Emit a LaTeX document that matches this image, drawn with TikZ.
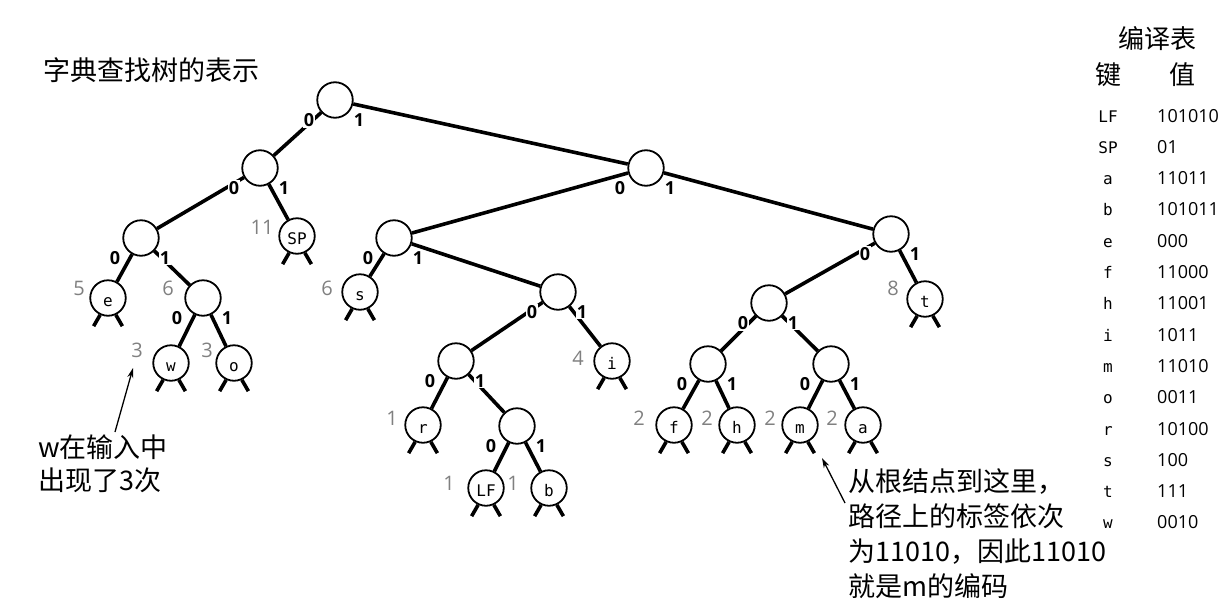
\documentclass[tikz,border=0pt]{standalone}
\usepackage{fontspec}
\setmainfont{Open Sans}
\setmonofont{DejaVu Sans Mono}
\newfontfamily\cjk{Noto Sans CJK SC}
\usetikzlibrary{arrows.meta}

\tikzset{
  knot/.style={circle,draw,line width=1.8pt,minimum size=35.5pt,inner sep=0pt,
    text height=16pt,text depth=0pt,font=\ttfamily\fontsize{16}{16}\selectfont},
  edge/.style={line width=3.6pt},
  bit/.style={fill=white,inner sep=1pt,font=\bfseries\fontsize{18}{18}\selectfont},
  cnt/.style={text=black!50,inner sep=0pt,font=\fontsize{20}{20}\selectfont},
  note/.style={align=left,inner sep=0pt,anchor=north west},
  pointer/.style={line width=1.3pt,-{Stealth[length=10pt,width=6pt]}},
  keycell/.style={anchor=base,inner sep=0pt,font=\ttfamily\fontsize{16}{16}\selectfont},
  valcell/.style={anchor=base west,inner sep=0pt,font=\fontsize{18}{18}\selectfont},
}

\begin{document}
\begin{tikzpicture}[x=1pt,y=-1pt]
  \useasboundingbox (0,0) rectangle (1228,605);

  \node[font=\cjk\fontsize{27}{27}\selectfont] (title) at (151,70) {字典查找树的表示};

  % trie nodes, named by their code
  \node[knot] (c) at (335,100) {};
  \node[knot] (c0) at (260,168) {};
  \node[knot] (c1) at (646,168) {};
  \node[knot] (c00) at (141,238) {};
  \node[knot] (c01) at (297,236) {SP};
  \node[knot] (c000) at (108,298) {e};
  \node[knot] (c001) at (203,298) {};
  \node[knot] (c0010) at (171,363) {w};
  \node[knot] (c0011) at (234,363) {o};
  \node[knot] (c10) at (394,238) {};
  \node[knot] (c11) at (891,234) {};
  \node[knot] (c100) at (360,292) {s};
  \node[knot] (c101) at (558,292) {};
  \node[knot] (c1010) at (456,361) {};
  \node[knot] (c1011) at (612,361) {i};
  \node[knot] (c10100) at (423,425) {r};
  \node[knot] (c10101) at (517,426) {};
  \node[knot] (c101010) at (486,488) {LF};
  \node[knot] (c101011) at (549,488) {b};
  \node[knot] (c110) at (769,303) {};
  \node[knot] (c111) at (925,299) {t};
  \node[knot] (c1100) at (708,364) {};
  \node[knot] (c1101) at (831,364) {};
  \node[knot] (c11000) at (674,425) {f};
  \node[knot] (c11001) at (737,425) {h};
  \node[knot] (c11010) at (800,425) {m};
  \node[knot] (c11011) at (863,425) {a};

  % links and their bits
  \foreach \p in {c,c0,c00,c001,c1,c10,c101,c1010,c10101,c11,c110,c1100,c1101} {
    \draw[edge] (\p) -- (\p0);
    \draw[edge] (\p) -- (\p1);
    \node[bit] (\p-0) at ([shift={(-26,20)}]\p) {0};
    \node[bit] (\p-1) at ([shift={(24,20)}]\p) {1};
  }

  % null links under the leaves
  \foreach \n in {c000,c0010,c0011,c01,c100,c10100,c101010,c101011,c1011,c11000,c11001,c11010,c11011,c111}
    \draw[edge] (\n.-115) -- ++(-120:13pt) (\n.-65) -- ++(-60:13pt);

  % frequencies
  \node[cnt] (c000-n) at (79,288) {5};
  \node[cnt] (c01-n) at (262,227) {11};
  \node[cnt] (c001-n) at (168,288) {6};
  \node[cnt] (c100-n) at (327,288) {6};
  \node[cnt] (c0010-n) at (137,350) {3};
  \node[cnt] (c0011-n) at (207,350) {3};
  \node[cnt] (c1011-n) at (578,358) {4};
  \node[cnt] (c10100-n) at (392,418) {1};
  \node[cnt] (c101010-n) at (449,483) {1};
  \node[cnt] (c101011-n) at (513,483) {1};
  \node[cnt] (c111-n) at (893,288) {8};
  \node[cnt] (c11000-n) at (639,418) {2};
  \node[cnt] (c11001-n) at (707,418) {2};
  \node[cnt] (c11010-n) at (770,418) {2};
  \node[cnt] (c11011-n) at (832,418) {2};

  % notes
  \node[note,font=\cjk\fontsize{27}{33}\selectfont] (note-w) at (38,435) {w在输入中\\出现了3次};
  \coordinate (tail-w) at (115,432);
  \coordinate (tip-w) at (133,368);
  \draw[pointer] (tail-w) -- (tip-w);

  \node[note,font=\cjk\fontsize{27}{35}\selectfont] (note-m) at (848,468)
    {从根结点到这里，\\路径上的标签依次\\为11010，因此11010\\就是m的编码};
  \coordinate (tail-m) at (845,503);
  \coordinate (tip-m) at (822,458);
  \draw[pointer] (tail-m) -- (tip-m);

  % code table
  \node[font=\cjk\fontsize{26}{26}\selectfont] (tab) at (1157,39) {编译表};
  \node[font=\cjk\fontsize{26}{26}\selectfont] (key) at (1108,75) {键};
  \node[font=\cjk\fontsize{26}{26}\selectfont] (val) at (1182,75) {值};
  \foreach \k/\v [count=\i from 0] in {LF/101010,SP/01,a/11011,b/101011,e/000,f/11000,h/11001,
      i/1011,m/11010,o/0011,r/10100,s/100,t/111,w/0010} {
    \node[keycell] (k\i) at (1108,{122+31.3*\i}) {\k};
    \node[valcell] (v\i) at (1157,{122+31.3*\i}) {\v};
  }
\end{tikzpicture}
\end{document}
